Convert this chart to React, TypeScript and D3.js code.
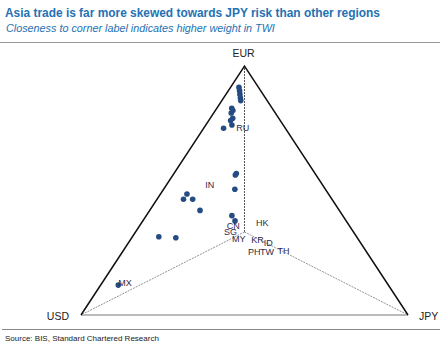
import React from "react";
import * as d3 from "d3";

// Ternary shares: [EUR, JPY] (USD = 1 - EUR - JPY)
const dotEur = [0.914, 0.9, 0.886, 0.871, 0.861, 0.83, 0.821, 0.811, 0.79, 0.781, 0.763, 0.75, 0.568, 0.562, 0.505, 0.486, 0.465, 0.465, 0.42, 0.399, 0.378, 0.314, 0.31, 0.12];
const dotJpy = [0.026, 0.035, 0.043, 0.052, 0.058, 0.046, 0.054, 0.054, 0.069, 0.067, 0.08, 0.061, 0.191, 0.191, 0.218, 0.081, 0.081, 0.109, 0.154, 0.262, 0.282, 0.081, 0.135, 0.054];

const labelNames = ["RU", "IN", "HK", "CN", "SG", "MY", "KR", "ID", "PH", "TW", "TH", "MX"];
const labelEur = [0.753, 0.522, 0.372, 0.357, 0.333, 0.305, 0.303, 0.291, 0.253, 0.253, 0.257, 0.129];
const labelJpy = [0.118, 0.133, 0.368, 0.287, 0.291, 0.33, 0.388, 0.427, 0.403, 0.442, 0.491, 0.07];

const corners = ["USD", "EUR", "JPY"];
const cornerEur = [0, 1, 0];
const cornerJpy = [0, 0, 1];

const title = "Asia trade is far more skewed towards JPY risk than other regions";
const subtitle = "Closeness to corner label indicates higher weight in TWI";
const source = "Source: BIS, Standard Chartered Research";

const W = 440;
const H = 347;

export default function App() {
  const xScale = d3.scaleLinear().domain([0, 1]).range([81, 408]);
  const yScale = d3.scaleLinear().domain([0, 1]).range([315, 66]);
  const px = (e: number, j: number) => xScale(j + e / 2);
  const py = (e: number) => yScale(e);

  const U: [number, number] = [px(0, 0), py(0)];
  const E: [number, number] = [px(1, 0), py(1)];
  const J: [number, number] = [px(0, 1), py(0)];
  const C: [number, number] = [px(1 / 3, 1 / 3), py(1 / 3)];
  const line = d3.line();

  const font = "'Liberation Sans', Arial, sans-serif";
  const blue = "#2471b3";

  return (
    <svg width={W} height={H} style={{ position: "fixed", top: 0, left: 0, background: "#fff" }} fontFamily={font}>
      <rect x={0} y={0} width={W} height={H} fill="#fff" />
      <text x={5} y={17} fontSize={12} fontWeight="bold" fill={blue} textLength={375} lengthAdjust="spacingAndGlyphs">{title}</text>
      <text x={6} y={32} fontSize={10.8} fontStyle="italic" fill={blue}>{subtitle}</text>
      <line x1={0} x2={W} y1={42.5} y2={42.5} stroke="#999" strokeWidth={1} />

      {/* internal lines */}
      <path d={line([C, E]) || ""} stroke="#555" strokeWidth={1} strokeDasharray="2,1" fill="none" />
      <path d={line([C, U]) || ""} stroke="#777" strokeWidth={0.8} strokeDasharray="2,1" fill="none" />
      <path d={line([C, J]) || ""} stroke="#777" strokeWidth={0.8} strokeDasharray="2,1" fill="none" />
      {/* edges */}
      <path d={line([U, J]) || ""} stroke="#bbb" strokeWidth={2} fill="none" />
      <path d={line([U, E, J]) || ""} stroke="#111" strokeWidth={1.5} fill="none" strokeLinejoin="miter" />

      {dotEur.map((e, i) => (
        <circle key={i} cx={px(e, dotJpy[i])} cy={py(e)} r={2.8} fill="#244b82" />
      ))}

      {labelNames.map((n, i) => (
        <text key={n} x={px(labelEur[i], labelJpy[i])} y={py(labelEur[i])} dy="0.35em" textAnchor="middle" fontSize={9} fill="#2e2a4a">
          {n}
        </text>
      ))}

      {corners.map((c, i) => {
        const x = px(cornerEur[i], cornerJpy[i]);
        const y = py(cornerEur[i]);
        if (c === "EUR") return <text key={c} x={x - 1} y={y - 13} dy="0.35em" textAnchor="middle" fontSize={10.5} fill="#222">{c}</text>;
        if (c === "USD") return <text key={c} x={x - 12} y={y + 1} dy="0.35em" textAnchor="end" fontSize={10.5} fill="#222">{c}</text>;
        return <text key={c} x={x + 11} y={y + 1} dy="0.35em" textAnchor="start" fontSize={10.5} fill="#222">{c}</text>;
      })}

      <line x1={2} x2={W} y1={329.5} y2={329.5} stroke="#888" strokeWidth={1} />
      <text x={5} y={341} fontSize={8} fill="#222">{source}</text>
    </svg>
  );
}
